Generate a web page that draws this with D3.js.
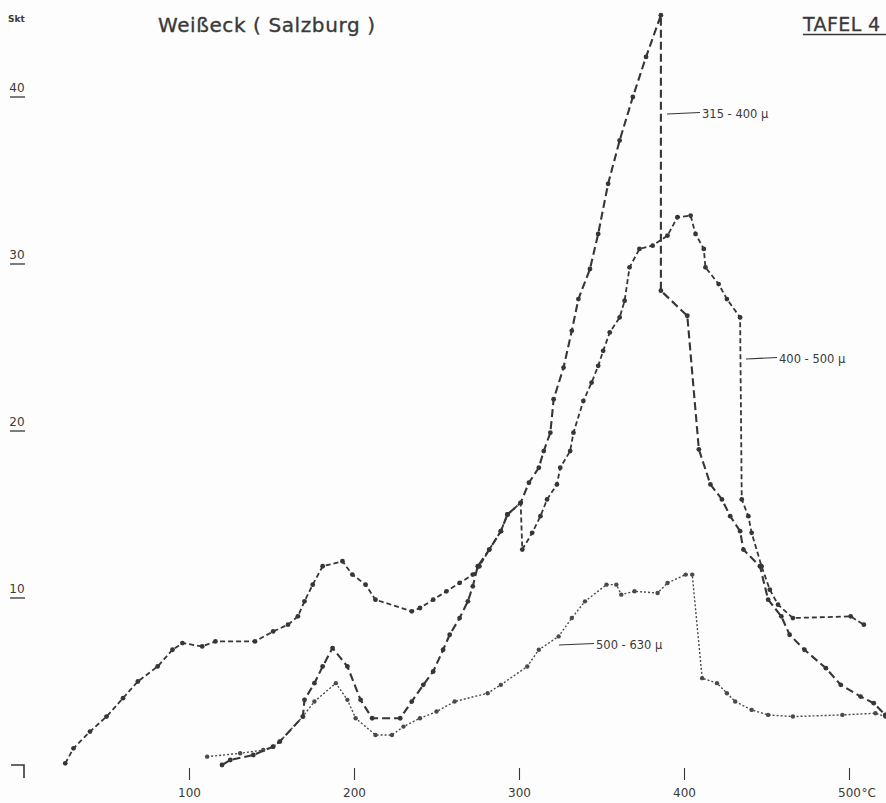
<!DOCTYPE html>
<html>
<head>
<meta charset="utf-8">
<script src="https://cdn.jsdelivr.net/npm/d3@7/dist/d3.min.js"></script>
<style>
  html, body { margin: 0; padding: 0; background: #fdfdfd; }
  svg { display: block; }
  text { fill: #3a3a3a; font-family: "DejaVu Sans", sans-serif; }
</style>
</head>
<body>
<svg id="chart" width="886" height="803"></svg>
<script>
// Heating curves, Weißeck (Salzburg): reading in Skt. against temperature (°C)
const temps315 = [120,125,139,151,155,169,170,176,181,187,196,204,211,228,235,242,248,254,258,264,269,272,275,282,289,293,301,306,312,315,319,321,327,332,336,343,348,354,361,369,377,386,386,402,409,416,423,428,434,436,446,451,459,464,473,486,495,507,515,522];
const values315 = [0,0.3,0.6,1.1,1.4,2.9,3.9,4.9,5.9,7.0,5.9,3.9,2.8,2.8,3.8,4.8,5.6,6.9,7.8,8.8,9.8,10.7,11.9,12.9,14.0,15.0,15.7,16.9,17.8,18.8,19.9,21.9,23.8,26.0,27.9,29.7,31.8,34.8,37.4,40.0,42.4,44.9,28.4,26.9,18.9,16.8,15.9,14.9,14.0,12.9,11.9,9.9,8.9,7.8,6.9,5.8,4.8,4.1,3.7,3.0];

const temps400 = [25,30,40,50,60,69,81,90,96,108,116,140,151,160,166,170,175,181,193,199,207,213,235,240,248,256,264,272,276,282,289,293,301,302,308,313,317,323,325,331,333,339,344,348,351,355,361,364,367,373,381,390,396,404,407,412,413,421,426,434,435,439,441,447,452,457,466,501,509];
const values400 = [0.1,1.0,2.0,2.9,4.0,5.0,5.9,6.9,7.3,7.1,7.4,7.4,8.0,8.4,8.9,9.8,10.8,11.9,12.2,11.4,10.8,9.9,9.2,9.4,9.9,10.4,10.9,11.4,11.9,12.9,14.0,15.0,15.7,12.9,13.9,14.9,15.9,16.8,17.8,18.8,19.9,21.8,22.9,23.9,24.8,25.9,26.8,27.8,29.8,30.9,31.1,31.7,32.8,32.9,31.8,30.9,29.8,28.8,27.9,26.8,15.9,14.9,13.9,11.9,10.5,9.6,8.8,8.9,8.4];

const temps500 = [111,131,145,151,155,169,176,189,196,201,213,223,230,240,250,261,281,289,305,312,324,332,340,353,359,362,370,384,390,401,405,411,420,426,431,441,451,466,496,516,522];
const values500 = [0.5,0.7,0.9,1.1,1.4,2.9,3.8,4.9,3.9,2.8,1.8,1.8,2.3,2.8,3.2,3.8,4.3,4.8,5.9,6.9,7.7,8.8,9.8,10.8,10.8,10.2,10.4,10.3,10.9,11.4,11.4,5.2,4.9,4.3,3.8,3.3,3.0,2.9,3.0,3.1,2.9];

const xTicks = [100, 200, 300, 400, 500];
const yTicks = [10, 20, 30, 40];
const seriesLabels = ["315 - 400 µ", "400 - 500 µ", "500 - 630 µ"];

const svg = d3.select("#chart");
const x = d3.scaleLinear().domain([0, 500]).range([24, 849]);
const y = d3.scaleLinear().domain([0, 40]).range([765, 97]);

const ink = "#363636";
const narrow = "DejaVu Sans Condensed, DejaVu Sans, sans-serif";

// Title and plate number
svg.append("text").attr("x", 158).attr("y", 32)
  .attr("font-size", 20).attr("letter-spacing", 0.6)
  .attr("stroke", "#3a3a3a").attr("stroke-width", 0.35)
  .text("Weißeck  ( Salzburg )");
svg.append("text").attr("x", 803).attr("y", 31)
  .attr("font-size", 19).attr("letter-spacing", 0.4)
  .attr("stroke", "#3a3a3a").attr("stroke-width", 0.3)
  .text("TAFEL 4");
svg.append("line").attr("x1", 803).attr("x2", 886).attr("y1", 34.5).attr("y2", 34.5)
  .attr("stroke", ink).attr("stroke-width", 1.7);

// Unit label on the value axis
svg.append("text").attr("x", 8).attr("y", 22).attr("font-size", 9)
  .attr("font-weight", "bold").attr("font-family", narrow).text("Skt");

// Value axis: number above a short underline marking the level
const yg = svg.append("g");
yTicks.forEach(v => {
  yg.append("text").attr("x", 17).attr("y", y(v) - 5)
    .attr("text-anchor", "middle").attr("font-size", 12)
    .attr("font-family", narrow).text(v);
  yg.append("line").attr("x1", 10).attr("x2", 25).attr("y1", y(v)).attr("y2", y(v))
    .attr("stroke", ink).attr("stroke-width", 1.3);
});

// Origin corner mark
svg.append("path")
  .attr("d", `M${x(0) - 13},${y(0)}H${x(0)}V${y(0) + 13}`)
  .attr("fill", "none").attr("stroke", ink).attr("stroke-width", 1.6);

// Temperature axis
const xAxis = d3.axisBottom(x).tickValues(xTicks).tickSize(12).tickPadding(8)
  .tickFormat(d3.format("d"));
const xg = svg.append("g").attr("transform", `translate(0,768)`).call(xAxis);
xg.select(".domain").remove();
xg.selectAll(".tick line").attr("stroke", ink).attr("stroke-width", 1.1);
xg.selectAll(".tick text").attr("fill", ink).attr("font-size", 12)
  .attr("font-family", narrow);
xg.selectAll(".tick").filter(d => d === 500).append("text")
  .attr("x", 12).attr("y", 20).attr("dy", "0.71em")
  .attr("fill", ink).attr("font-size", 12).attr("text-anchor", "start")
  .attr("font-family", narrow)
  .text("°C");

const line = d3.line().x(d => x(d[0])).y(d => y(d[1]));

function drawSeries(temps, values, dash, width, color, r) {
  const pts = temps.map((t, i) => [t, values[i]]);
  const g = svg.append("g");
  g.append("path").datum(pts).attr("d", line)
    .attr("fill", "none").attr("stroke", color).attr("stroke-width", width)
    .attr("stroke-dasharray", dash).attr("stroke-linejoin", "round");
  g.selectAll("circle").data(pts).join("circle")
    .attr("cx", d => x(d[0])).attr("cy", d => y(d[1])).attr("r", r)
    .attr("fill", color);
}

drawSeries(temps500, values500, "2,2", 1.4, "#4a4a4a", 2.2);
drawSeries(temps400, values400, "5,3", 1.8, ink, 2.4);
drawSeries(temps315, values315, "8,4", 2.1, ink, 2.4);

// Callouts naming each size fraction
const callouts = [
  { label: seriesLabels[0], x1: 667, x2: 700, yy: 114 },
  { label: seriesLabels[1], x1: 746, x2: 777, yy: 359 },
  { label: seriesLabels[2], x1: 559, x2: 594, yy: 645 }
];
callouts.forEach(c => {
  svg.append("line").attr("x1", c.x1).attr("x2", c.x2).attr("y1", c.yy).attr("y2", c.yy - 1.5)
    .attr("stroke", ink).attr("stroke-width", 1.2);
  svg.append("text").attr("x", c.x2 + 2).attr("y", c.yy + 4)
    .attr("font-size", 11.5)
    .attr("font-family", narrow)
    .text(c.label);
});
</script>
</body>
</html>
